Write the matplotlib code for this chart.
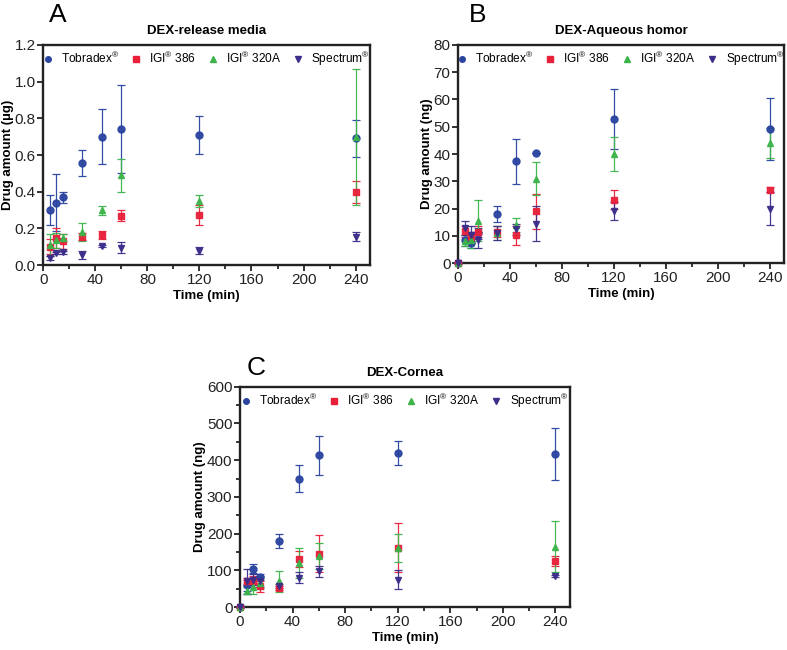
import matplotlib
matplotlib.use("Agg")
import matplotlib.pyplot as plt
import numpy as np
from matplotlib.ticker import MultipleLocator
from matplotlib.lines import Line2D

plt.rcParams['font.family'] = ['Liberation Sans', 'DejaVu Sans']
plt.rcParams['mathtext.fontset'] = 'custom'
plt.rcParams['mathtext.rm'] = 'Liberation Sans'

series_names = ["Tobradex$^{®}$", "IGI$^{®}$ 386", "IGI$^{®}$ 320A", "Spectrum$^{®}$"]
colors = ["#2a44a0", "#e8203a", "#3cb44a", "#3b2d8a"]
markers = ["o", "s", "^", "v"]

# Panel A: DEX-release media (µg)
time_a = [5, 10, 15, 30, 45, 60, 120, 240]
a_tob = [0.30, 0.34, 0.37, 0.555, 0.70, 0.74, 0.71, 0.69]
a_tob_err = [0.08, 0.155, 0.03, 0.07, 0.15, 0.24, 0.105, 0.10]
a_386 = [0.10, 0.15, 0.13, 0.155, 0.165, 0.27, 0.275, 0.40]
a_386_err = [0.04, 0.055, 0.04, 0.02, 0.02, 0.03, 0.055, 0.06]
a_320 = [0.11, 0.135, 0.15, 0.18, 0.30, 0.49, 0.35, 0.70]
a_320_err = [0.06, 0.04, 0.02, 0.05, 0.025, 0.09, 0.035, 0.37]
a_spe = [0.04, 0.065, 0.07, 0.055, 0.105, 0.095, 0.08, 0.155]
a_spe_err = [0.01, 0.005, 0.01, 0.02, 0.005, 0.03, 0.02, 0.025]

# Panel B: DEX-Aqueous homor (ng)
time_b = [0, 5, 10, 15, 30, 45, 60, 120, 240]
b_tob = [0, 8.5, 7.5, 11.0, 18.0, 37.3, 40.5, 53.0, 49.3]
b_tob_err = [0, 2.0, 2.0, 2.0, 3.0, 8.2, 0.0, 11.0, 11.3]
b_386 = [0, 11.7, 9.5, 11.5, 11.5, 10.3, 19.0, 23.3, 27.0]
b_386_err = [0, 2.0, 2.0, 2.0, 2.0, 3.5, 6.5, 3.5, 1.0]
b_320 = [0, 8.3, 8.5, 15.5, 11.0, 14.0, 31.0, 40.0, 44.0]
b_320_err = [0, 2.0, 3.0, 7.5, 2.5, 2.5, 6.0, 6.3, 5.5]
b_spe = [0, 13.0, 10.5, 8.5, 11.0, 12.5, 14.5, 19.0, 20.0]
b_spe_err = [0, 2.5, 3.0, 3.0, 2.5, 2.0, 6.5, 3.3, 6.0]

# Panel C: DEX-Cornea (ng)
time_c = [0, 5, 10, 15, 30, 45, 60, 120, 240]
c_tob = [0, 60, 105, 82, 180, 350, 413, 420, 416]
c_tob_err = [0, 15, 12, 8, 18, 36, 52, 32, 71]
c_386 = [0, 70, 70, 57, 52, 130, 145, 162, 125]
c_386_err = [0, 10, 15, 15, 5, 22, 50, 66, 13]
c_320 = [0, 45, 55, 65, 70, 120, 140, 162, 165]
c_320_err = [0, 10, 20, 15, 28, 42, 35, 38, 70]
c_spe = [0, 70, 75, 70, 58, 80, 97, 75, 85]
c_spe_err = [0, 33, 15, 15, 5, 15, 14, 25, 3]

fig = plt.figure(figsize=(7.87, 6.5), dpi=100)

def panel(rect, t, data, ylim, ymajor, yminor, ylabel, title, letter, letter_xy, yfmt):
    ax = fig.add_axes(rect)
    for (y, e), c, m in zip(data, colors, markers):
        ax.errorbar(t, y, yerr=e, fmt=m, color=c, ecolor=c, markersize=5,
                    elinewidth=0.9, capsize=3, capthick=0.9,
                    alpha=0.95, clip_on=False, zorder=3)
    ax.set_xlim(0, 251)
    ax.set_ylim(*ylim)
    ax.xaxis.set_major_locator(MultipleLocator(40))
    ax.xaxis.set_minor_locator(MultipleLocator(20))
    ax.yaxis.set_major_locator(MultipleLocator(ymajor))
    if yminor:
        ax.yaxis.set_minor_locator(MultipleLocator(yminor))
    if yfmt:
        ax.yaxis.set_major_formatter(plt.FormatStrFormatter(yfmt))
    for s in ax.spines.values():
        s.set_linewidth(1.7)
        s.set_color("#222222")
    ax.tick_params(axis='both', which='major', direction='out', length=4, width=1.3,
                   labelsize=11, colors="#222222", pad=1.5)
    ax.tick_params(axis='both', which='minor', direction='out', length=3, width=1.1)
    ax.set_xlabel("Time (min)", fontsize=9.5, fontweight='bold', labelpad=2)
    ax.set_ylabel(ylabel, fontsize=9.5, fontweight='bold', labelpad=0.5)
    ax.set_title(title, fontsize=9.5, fontweight='bold', pad=8)
    handles = [Line2D([], [], marker=m, color=c, ls='none', markersize=4)
               for c, m in zip(colors, markers)]
    ax.legend(handles, series_names, loc='upper center', ncol=4, frameon=False,
              fontsize=8.6, handletextpad=0.7, columnspacing=1.0,
              borderaxespad=0.2, handlelength=0.8, bbox_to_anchor=(0.5, 1.01))
    fig.text(letter_xy[0], letter_xy[1], letter, fontsize=19, ha='left', va='top')
    return ax

panel([0.055, 0.592, 0.415, 0.339], time_a,
      list(zip([a_tob, a_386, a_320, a_spe], [a_tob_err, a_386_err, a_320_err, a_spe_err])),
      (0, 1.2), 0.2, None, "Drug amount (µg)", "DEX-release media", "A", (0.062, 0.995), "%.1f")

panel([0.582, 0.595, 0.414, 0.336], time_b,
      list(zip([b_tob, b_386, b_320, b_spe], [b_tob_err, b_386_err, b_320_err, b_spe_err])),
      (0, 80), 10, None, "Drug amount (ng)", "DEX-Aqueous homor", "B", (0.596, 0.995), "%d")

panel([0.305, 0.066, 0.419, 0.339], time_c,
      list(zip([c_tob, c_386, c_320, c_spe], [c_tob_err, c_386_err, c_320_err, c_spe_err])),
      (0, 600), 100, 50, "Drug amount (ng)", "DEX-Cornea", "C", (0.313, 0.452), "%d")

fig.savefig("out.png", dpi=100)
